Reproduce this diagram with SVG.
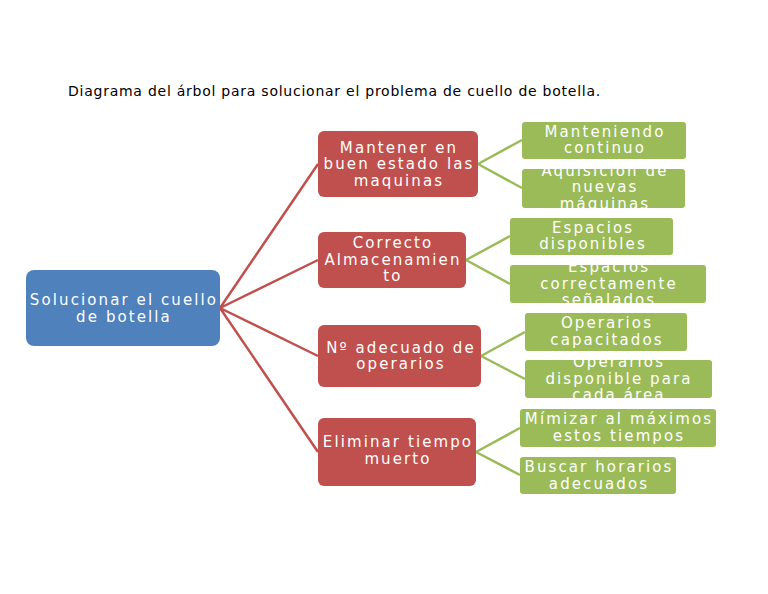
<svg xmlns="http://www.w3.org/2000/svg" width="768" height="594" viewBox="0 0 768 594">
<style>
.t{font-family:"DejaVu Sans",Verdana,sans-serif;font-size:15px;fill:#fff;text-anchor:middle;letter-spacing:2.1px}
.title{font-family:"DejaVu Sans",Verdana,sans-serif;font-size:14px;fill:#000;letter-spacing:0.75px}
.root{fill:#4f81bd}
.red{fill:#c0504d}
.grn{fill:#9bbb59}
.lr{stroke:#c0504d;stroke-width:2.5;fill:none}
.lg{stroke:#9bbb59;stroke-width:2.5;fill:none}
</style>
<rect width="768" height="594" fill="#fff"/>
<text class="title" x="68" y="96">Diagrama del árbol para solucionar el problema de cuello de botella.</text>
<g id="connectors">
<path class="lr" d="M220 308 L318 164 M220 308 L318 260 M220 308 L318 356 M220 308 L318 452"/>
<path class="lg" d="M478 164 L522 140 M478 164 L522 188"/>
<path class="lg" d="M466 260 L510 236 M466 260 L510 284"/>
<path class="lg" d="M481 356 L525 332 M481 356 L525 379"/>
<path class="lg" d="M476 452 L520 428 M476 452 L520 475"/>
</g>
<g id="root"><rect class="root" x="26" y="270" width="194" height="76" rx="8"/>
<text class="t" x="124" y="305">Solucionar el cuello</text><text class="t" x="124" y="322">de botella</text></g>
<g id="n1"><rect class="red" x="318" y="131" width="160" height="66" rx="6"/>
<text class="t" x="399" y="153">Mantener en</text><text class="t" x="399" y="169">buen estado las</text><text class="t" x="399" y="186">maquinas</text></g>
<g id="n2"><rect class="red" x="318" y="232" width="148" height="56" rx="6"/>
<text class="t" x="393" y="248">Correcto</text><text class="t" x="393" y="265">Almacenamien</text><text class="t" x="393" y="281">to</text></g>
<g id="n3"><rect class="red" x="318" y="325" width="163" height="62" rx="6"/>
<text class="t" x="401" y="353">Nº adecuado de</text><text class="t" x="401" y="369">operarios</text></g>
<g id="n4"><rect class="red" x="318" y="418" width="158" height="68" rx="6"/>
<text class="t" x="398" y="447">Eliminar tiempo</text><text class="t" x="398" y="464">muerto</text></g>
<g id="g1a"><rect class="grn" x="522" y="122" width="164" height="37" rx="3"/>
<text class="t" x="605" y="137">Manteniendo</text><text class="t" x="605" y="153">continuo</text></g>
<g id="g1b"><rect class="grn" x="522" y="169" width="163" height="39" rx="3"/>
<text class="t" x="605" y="176">Aquisicion de</text><text class="t" x="605" y="192">nuevas</text><text class="t" x="605" y="209">máquinas</text></g>
<g id="g2a"><rect class="grn" x="510" y="218" width="163" height="37" rx="3"/>
<text class="t" x="593" y="233">Espacios</text><text class="t" x="593" y="249">disponibles</text></g>
<g id="g2b"><rect class="grn" x="510" y="265" width="196" height="38" rx="3"/>
<text class="t" x="609" y="272">Espacios</text><text class="t" x="609" y="289">correctamente</text><text class="t" x="609" y="305">señalados</text></g>
<g id="g3a"><rect class="grn" x="525" y="313" width="162" height="38" rx="3"/>
<text class="t" x="607" y="328">Operarios</text><text class="t" x="607" y="345">capacitados</text></g>
<g id="g3b"><rect class="grn" x="525" y="360" width="187" height="38" rx="3"/>
<text class="t" x="619" y="367">Operarios</text><text class="t" x="619" y="384">disponible para</text><text class="t" x="619" y="400">cada área</text></g>
<g id="g4a"><rect class="grn" x="520" y="409" width="196" height="38" rx="3"/>
<text class="t" x="619" y="424">Mímizar al máximos</text><text class="t" x="619" y="441">estos tiempos</text></g>
<g id="g4b"><rect class="grn" x="520" y="457" width="156" height="37" rx="3"/>
<text class="t" x="599" y="472">Buscar horarios</text><text class="t" x="599" y="489">adecuados</text></g>
</svg>
